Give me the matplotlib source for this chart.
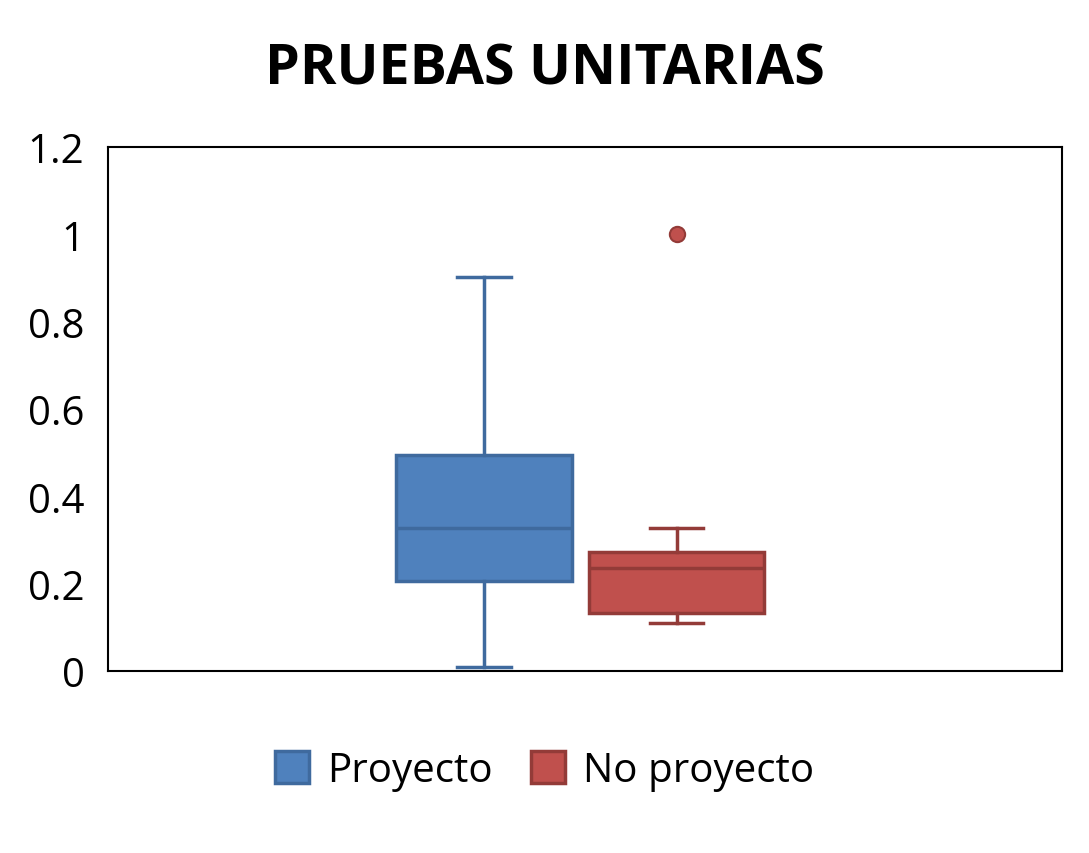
import matplotlib.pyplot as plt
from matplotlib.patches import Patch

plt.rcParams['font.family'] = ['Open Sans', 'DejaVu Sans']

series = ["Proyecto", "No proyecto"]
whislo = [0.01, 0.11]
q1 = [0.207, 0.133]
med = [0.327, 0.237]
q3 = [0.495, 0.272]
whishi = [0.902, 0.327]
fliers = [[], [1.0]]

fills = ["#4F81BD", "#C0504D"]
edges = ["#3F6A9E", "#933B38"]

stats = []
for i, name in enumerate(series):
    stats.append(dict(label=name, whislo=whislo[i], q1=q1[i], med=med[i],
                      q3=q3[i], whishi=whishi[i], fliers=fliers[i]))

fig = plt.figure(figsize=(10.89, 8.54), dpi=100)
ax = fig.add_axes([0.0992, 0.2131, 0.8760, 0.6136])

positions = [0.394, 0.596]
bp = ax.bxp(stats, positions=positions, widths=0.184, patch_artist=True,
            showfliers=True, manage_ticks=False)

for i in range(len(series)):
    box = bp['boxes'][i]
    box.set_facecolor(fills[i])
    box.set_edgecolor(edges[i])
    box.set_linewidth(2.5)
    bp['medians'][i].set_color(edges[i])
    bp['medians'][i].set_linewidth(2.5)
    for w in bp['whiskers'][2 * i:2 * i + 2]:
        w.set_color(edges[i])
        w.set_linewidth(2.5)
    for c in bp['caps'][2 * i:2 * i + 2]:
        c.set_color(edges[i])
        c.set_linewidth(2.5)
        x = c.get_xdata()
        mid = (x[0] + x[1]) / 2
        c.set_xdata([mid - 0.028, mid + 0.028])
    fl = bp['fliers'][i]
    fl.set_marker('o')
    fl.set_markersize(11)
    fl.set_markerfacecolor(fills[i])
    fl.set_markeredgecolor(edges[i])
    fl.set_markeredgewidth(1.5)

ax.set_xlim(0, 1)
ax.set_ylim(0, 1.2)
ax.set_yticks([0, 0.2, 0.4, 0.6, 0.8, 1.0, 1.2])
ax.set_yticklabels(["0", "0.2", "0.4", "0.6", "0.8", "1", "1.2"])
ax.set_xticks([])
ax.tick_params(axis='y', length=0, labelsize=29, pad=17)
for s in ax.spines.values():
    s.set_linewidth(1.5)
    s.set_color("black")

fig.text(0.5, 0.918, "PRUEBAS UNITARIAS", ha='center', va='center',
         fontsize=40, fontweight='bold')

handles = [Patch(facecolor=fills[i], edgecolor=edges[i], linewidth=2.5, label=series[i])
           for i in range(len(series))]
fig.legend(handles=handles, loc='center', bbox_to_anchor=(0.5, 0.096), ncol=2,
           frameon=False, fontsize=29, handlelength=0.85, handleheight=0.85,
           handletextpad=0.45, columnspacing=0.95)

fig.savefig("out.png", dpi=100)
